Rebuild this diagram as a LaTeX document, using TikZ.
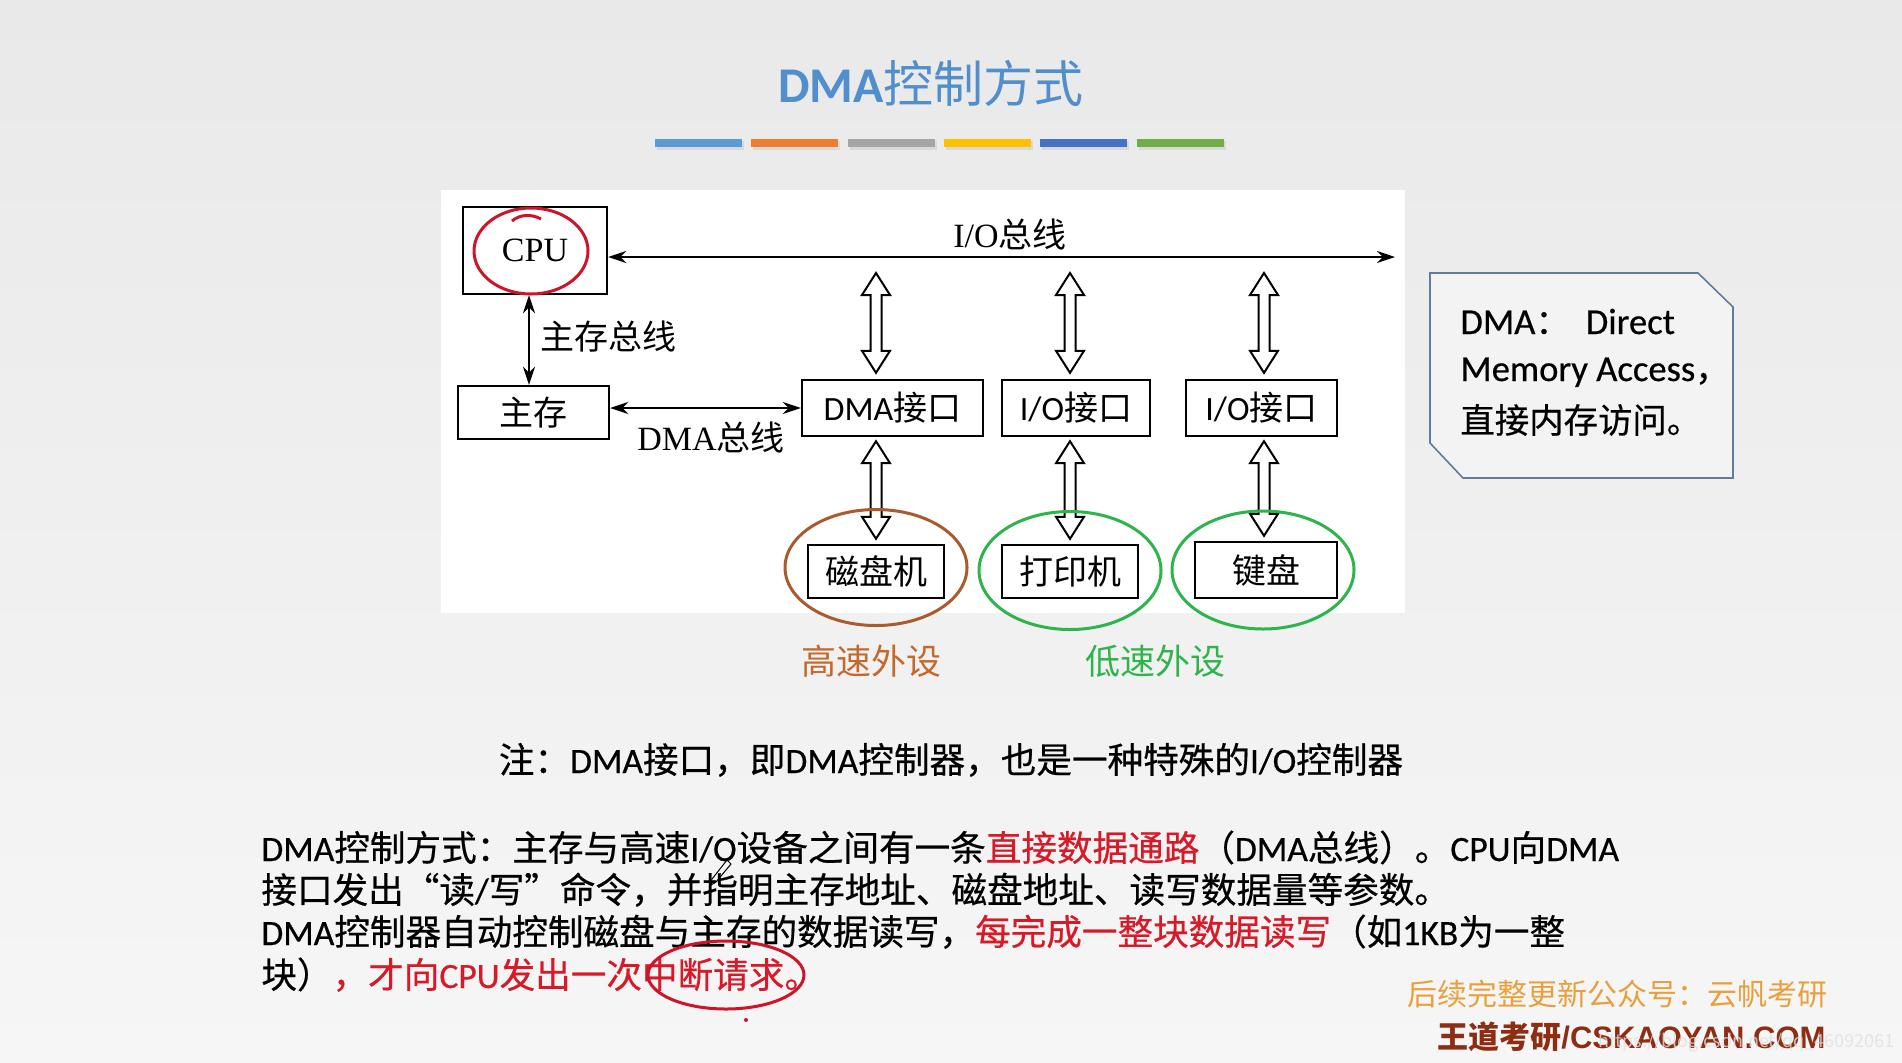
\documentclass[tikz,border=0pt]{standalone}
\usepackage{fontspec}
\setmainfont{Noto Sans CJK SC}
\newfontfamily\lat{Carlito}
\newfontfamily\tnr{Liberation Serif}
\newfontfamily\arl{Liberation Sans}
\newfontfamily\bcjk{Noto Sans CJK SC}[FakeBold=0.5]
\newfontfamily\blat{Carlito}[FakeBold=0.5]
\newcommand\bl[1]{{\blat #1}}
\usetikzlibrary{arrows.meta,calc}
\definecolor{bgtop}{RGB}{233,233,233}
\definecolor{bgbot}{RGB}{246,246,246}
\definecolor{titleblue}{RGB}{80,143,204}
\definecolor{barA}{RGB}{91,155,213}
\definecolor{barB}{RGB}{237,125,49}
\definecolor{barC}{RGB}{165,165,165}
\definecolor{barD}{RGB}{255,192,0}
\definecolor{barE}{RGB}{68,114,196}
\definecolor{barF}{RGB}{112,173,71}
\definecolor{hred}{RGB}{215,25,40}
\definecolor{penred}{RGB}{205,20,40}
\definecolor{brownc}{RGB}{170,90,45}
\definecolor{brownt}{RGB}{196,105,45}
\definecolor{greenc}{RGB}{45,180,75}
\definecolor{notebd}{RGB}{95,125,155}
\definecolor{notefill}{RGB}{243,243,243}
\definecolor{wmorange}{RGB}{232,160,60}
\definecolor{wmbrown}{RGB}{140,45,20}
\newcommand\fatarrow[2]{%
  \draw[fat] let \p1=#1, \p2=#2 in
  (\x1,\y1) -- (\x1+7pt,\y1-11pt) -- (\x1+2.75pt,\y1-11pt) -- (\x1+2.75pt,\y2+11pt)
  -- (\x1+7pt,\y2+11pt) -- (\x1,\y2) -- (\x1-7pt,\y2+11pt) -- (\x1-2.75pt,\y2+11pt)
  -- (\x1-2.75pt,\y1-11pt) -- (\x1-7pt,\y1-11pt) -- cycle;}
\begin{document}
\begin{tikzpicture}[x=0.5pt,y=-0.5pt,
  box/.style={draw,line width=1.2pt,fill=white,inner sep=0pt,font=\fontsize{17}{20}\selectfont},
  lbl/.style={inner sep=0pt,font=\fontsize{17}{20}\selectfont},
  body/.style={anchor=base west,inner sep=0pt,font=\bcjk\fontsize{17.8}{20}\selectfont},
  notetxt/.style={anchor=base west,inner sep=0pt,font=\bcjk\fontsize{17.2}{19}\selectfont},
  thin/.style={line width=1pt,{Stealth[length=9pt,width=6pt]}-{Stealth[length=9pt,width=6pt]}},
  fat/.style={line width=1pt,fill=white,line join=miter},
  redpen/.style={penred,line width=1.5pt}]
\useasboundingbox (0,0) rectangle (1902,1062);
\shade[top color=bgtop,bottom color=bgbot] (0,0) rectangle (1902,1062);
% title and bars
\node[anchor=base,inner sep=0pt,text=titleblue,font=\fontsize{25}{28}\selectfont] (title) at (931,102) {{\lat\bfseries DMA}控制方式};
\foreach \xa/\c in {655/barA,751/barB,848/barC,944/barD,1040/barE,1137/barF}{
  \fill[black!15] (\xa+2,141) rectangle (\xa+89,150);
  \fill[\c] (\xa,139) rectangle (\xa+87,147);
}
% diagram panel
\fill[white] (441,190) rectangle (1405,613);
\node[box,minimum width=72pt,minimum height=43.5pt] (cpu) at (535,250.5) {\tnr CPU};
\node[box,minimum width=75.5pt,minimum height=26.5pt] (mem) at (533.5,412.5) {主存};
\node[box,minimum width=90.5pt,minimum height=28pt] (dma) at (892.5,408) {{\lat DMA}接口};
\node[box,minimum width=74pt,minimum height=28pt] (io1) at (1076,408) {{\lat I/O}接口};
\node[box,minimum width=75.5pt,minimum height=28pt] (io2) at (1261.5,408) {{\lat I/O}接口};
\node[box,minimum width=68pt,minimum height=26.5pt] (disk) at (876,571.5) {磁盘机};
\node[box,minimum width=68pt,minimum height=26.5pt] (prn) at (1070,571.5) {打印机};
\node[box,minimum width=71pt,minimum height=28pt] (kbd) at (1266,570) {键盘};
\node[lbl] (iobus) at (1010,234) {{\tnr I/O}总线};
\node[lbl,anchor=west] (membus) at (540,337) {主存总线};
\node[lbl] (dmabus) at (711,437) {{\tnr DMA}总线};
\coordinate (busR) at (1395,257);
\coordinate (vx) at (529,0);
\coordinate (a1) at (876,0);
\coordinate (a2) at (1070,0);
\coordinate (a3) at (1264,0);
\draw[thin] (cpu.east |- busR) -- (busR);
\draw[thin] (vx |- cpu.south) -- (vx |- mem.north);
\draw[thin] (dma.west) -- (dma.west -| mem.east);
\fatarrow{($(a1 |- busR)+(0,16)$)}{($(a1 |- dma.north)+(0,-6)$)}
\fatarrow{($(a2 |- busR)+(0,16)$)}{($(a2 |- io1.north)+(0,-6)$)}
\fatarrow{($(a3 |- busR)+(0,16)$)}{($(a3 |- io2.north)+(0,-6)$)}
\fatarrow{($(a1 |- dma.south)+(0,4)$)}{($(a1 |- disk.north)+(0,-5)$)}
\fatarrow{($(a2 |- io1.south)+(0,4)$)}{($(a2 |- prn.north)+(0,-5)$)}
\fatarrow{($(a3 |- io2.south)+(0,4)$)}{($(a3 |- kbd.north)+(0,-5)$)}
% device groups
\draw[brownc,line width=1.5pt] (disk.center) ++(0,-4) ellipse [x radius=91,y radius=58];
\draw[greenc,line width=1.5pt] (prn.center) ++(0,-1) ellipse [x radius=91,y radius=59];
\draw[greenc,line width=1.5pt] (kbd.center) ++(-3,0) ellipse [x radius=91,y radius=59];
\node[lbl,text=brownt,font=\fontsize{17.5}{20}\selectfont] (fast) at (871,661) {高速外设};
\node[lbl,text=greenc,font=\fontsize{17.5}{20}\selectfont] (slow) at (1155,661) {低速外设};
% red pen on CPU
\draw[redpen] (cpu.center) ++(-4,0.5) ellipse [x radius=57,y radius=43];
\draw[redpen] (512,221) .. controls (520,214) and (532,214) .. (541,219);
% note box
\filldraw[fill=notefill,draw=notebd,line width=0.8pt] (1430,273) -- (1698,273) -- (1733,307) -- (1733,478) -- (1463,478) -- (1430,443) -- cycle;
\node[notetxt] (n1) at (1460,334) {{\blat\fontsize{18.3}{19}\selectfont DMA}：\hspace{8pt}{\blat\fontsize{18.3}{19}\selectfont Direct}};
\node[notetxt] (n2) at (1460,381) {{\blat\fontsize{18.3}{19}\selectfont Memory Access}，};
\node[notetxt] (n3) at (1460,433) {直接内存访问。};
% remark
\node[anchor=base,inner sep=0pt,font=\bcjk\fontsize{17.8}{20}\selectfont] (remark) at (951,773) {注：\bl{DMA}接口，即\bl{DMA}控制器，也是一种特殊的\bl{I/O}控制器};
% body text
\node[body] (l1) at (261,861) {\bl{DMA}控制方式：主存与高速\bl{I/O}设备之间有一条\textcolor{hred}{直接数据通路}（\bl{DMA}总线）。\bl{CPU}向\bl{DMA}};
\node[body] (l2) at (261,903) {接口发出“读\bl{/}写”命令，并指明主存地址、磁盘地址、读写数据量等参数。};
\node[body] (l3) at (261,945) {\bl{DMA}控制器自动控制磁盘与主存的数据读写，\textcolor{hred}{每完成一整块数据读写}（如\bl{1KB}为一整};
\node[body] (l4) at (261,988) {块）\textcolor{hred}{，才向\bl{CPU}发出一次中断请求。}};
% pen marks
\draw[redpen] (726,975) ellipse [x radius=78,y radius=34];
\fill[penred] (746,1020) circle [radius=2];
\draw[line width=0.5pt] (727,860) -- (731,864) -- (716,882) -- (711,885) -- (712,879) -- cycle;
% watermarks
\node[anchor=base west,inner sep=0pt,text=wmorange,font=\fontsize{15}{18}\selectfont] (wm1) at (1407,1005) {后续完整更新公众号：云帆考研};
\node[anchor=base west,inner sep=0pt,text=wmbrown,font=\fontsize{15.5}{18}\selectfont\bfseries] (wm2) at (1437,1048) {王道考研{\arl\bfseries /CSKAOYAN.COM}};
\node[anchor=base east,inner sep=0pt,text=black!12,text opacity=0.8,font=\fontsize{9}{11}\selectfont] (wm3) at (1895,1047) {https://blog.csdn.net/qq\_46092061};
\end{tikzpicture}
\end{document}
